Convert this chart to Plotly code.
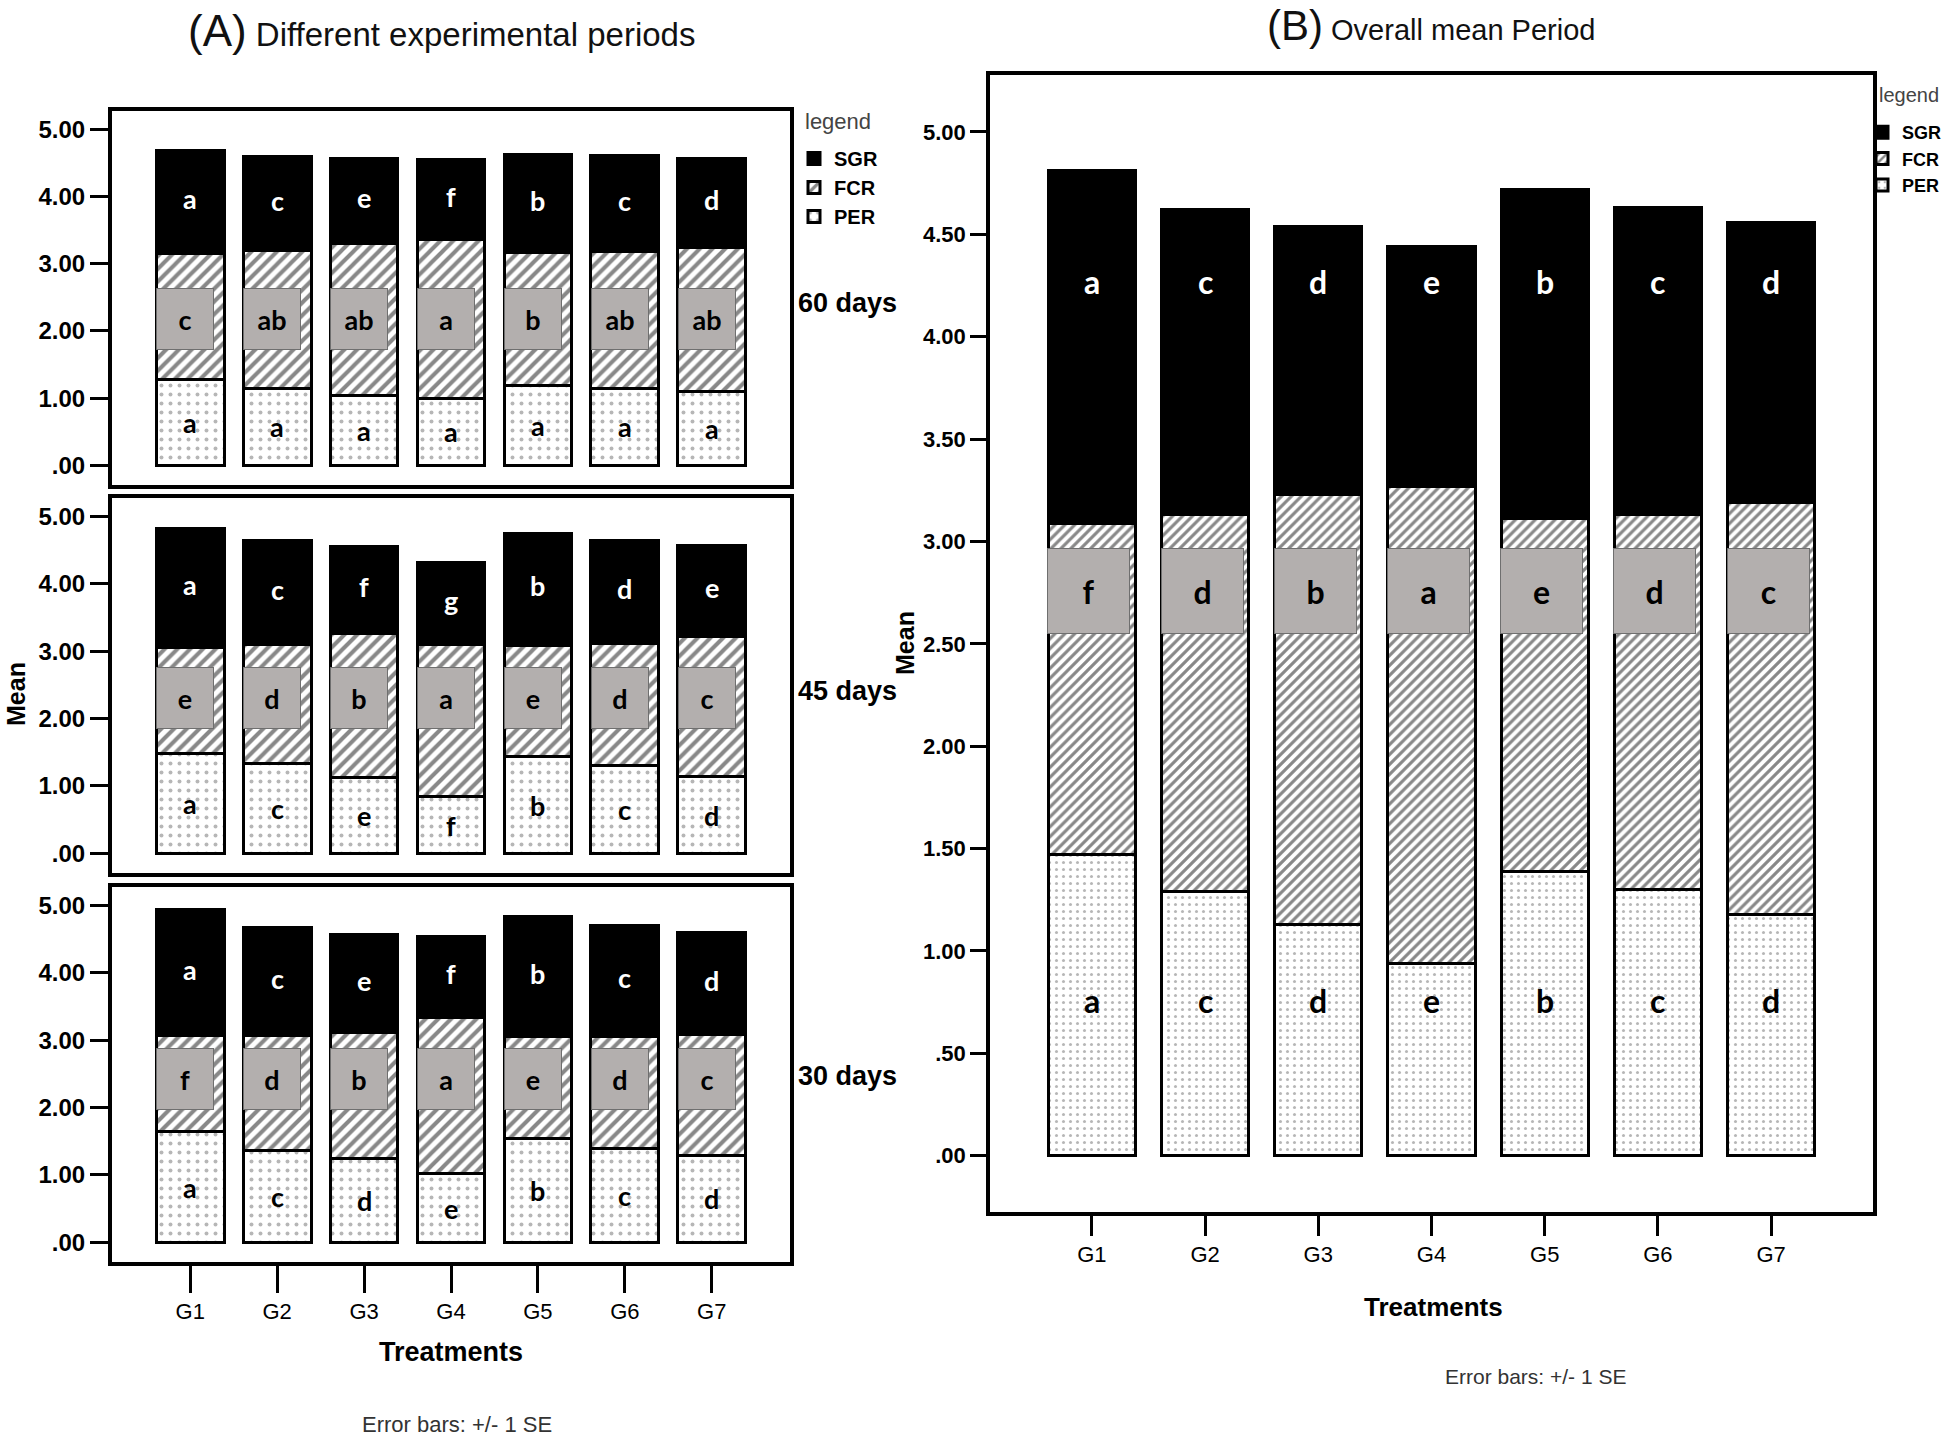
import plotly.graph_objects as go

# ---------------- data ----------------
groups = ["G1", "G2", "G3", "G4", "G5", "G6", "G7"]
series_names = ["PER", "FCR", "SGR"]

# 60 days (stack segments: PER bottom, FCR middle, SGR top)
per_60 = [1.28, 1.15, 1.04, 1.00, 1.19, 1.15, 1.10]
fcr_60 = [1.87, 2.04, 2.26, 2.36, 1.97, 2.03, 2.14]
sgr_60 = [1.53, 1.41, 1.26, 1.19, 1.47, 1.43, 1.32]
per_60_letters = ["a", "a", "a", "a", "a", "a", "a"]
fcr_60_letters = ["c", "ab", "ab", "a", "b", "ab", "ab"]
sgr_60_letters = ["a", "c", "e", "f", "b", "c", "d"]

# 45 days
per_45 = [1.48, 1.33, 1.12, 0.84, 1.43, 1.31, 1.14]
fcr_45 = [1.58, 1.77, 2.14, 2.26, 1.66, 1.81, 2.07]
sgr_45 = [1.76, 1.54, 1.29, 1.21, 1.66, 1.52, 1.36]
per_45_letters = ["a", "c", "e", "f", "b", "c", "d"]
fcr_45_letters = ["e", "d", "b", "a", "e", "d", "c"]
sgr_45_letters = ["a", "c", "f", "g", "b", "d", "e"]

# 30 days
per_30 = [1.64, 1.37, 1.24, 1.02, 1.54, 1.39, 1.29]
fcr_30 = [1.43, 1.70, 1.87, 2.32, 1.51, 1.66, 1.79]
sgr_30 = [1.86, 1.60, 1.46, 1.20, 1.78, 1.65, 1.51]
per_30_letters = ["a", "c", "d", "e", "b", "c", "d"]
fcr_30_letters = ["f", "d", "b", "a", "e", "d", "c"]
sgr_30_letters = ["a", "c", "e", "f", "b", "c", "d"]

# Overall mean period
per_all = [1.47, 1.29, 1.13, 0.94, 1.39, 1.30, 1.18]
fcr_all = [1.62, 1.84, 2.10, 2.33, 1.72, 1.83, 2.01]
sgr_all = [1.72, 1.49, 1.31, 1.17, 1.61, 1.50, 1.37]
per_all_letters = ["a", "c", "d", "e", "b", "c", "d"]
fcr_all_letters = ["f", "d", "b", "a", "e", "d", "c"]
sgr_all_letters = ["a", "c", "d", "e", "b", "c", "d"]

ticks_A = [0, 1, 2, 3, 4, 5]
ticktext_A = [".00", "1.00", "2.00", "3.00", "4.00", "5.00"]
ticks_B = [0, 0.5, 1, 1.5, 2, 2.5, 3, 3.5, 4, 4.5, 5]
ticktext_B = [".00", ".50", "1.00", "1.50", "2.00", "2.50", "3.00", "3.50", "4.00", "4.50", "5.00"]

# ---------------- layout helpers ----------------
W, H = 1944, 1440
def px(v):
    return v / W
def py(v):
    return 1 - v / H

x_idx = list(range(len(groups)))
FONT = "Liberation Sans"
LFONT = "Lato"

panels = [
    dict(xa="x", ya="y", per=per_60, fcr=fcr_60, sgr=sgr_60,
         lp=per_60_letters, lf=fcr_60_letters, ls=sgr_60_letters,
         ydom=(485, 111), box_y=2.18, kind="A", leg="legend", show=True),
    dict(xa="x2", ya="y2", per=per_45, fcr=fcr_45, sgr=sgr_45,
         lp=per_45_letters, lf=fcr_45_letters, ls=sgr_45_letters,
         ydom=(873, 498), box_y=2.30, kind="A", leg="legend", show=False),
    dict(xa="x3", ya="y3", per=per_30, fcr=fcr_30, sgr=sgr_30,
         lp=per_30_letters, lf=fcr_30_letters, ls=sgr_30_letters,
         ydom=(1262, 887), box_y=2.43, kind="A", leg="legend", show=False, xticks=True),
    dict(xa="x4", ya="y4", per=per_all, fcr=fcr_all, sgr=sgr_all,
         lp=per_all_letters, lf=fcr_all_letters, ls=sgr_all_letters,
         ydom=(1212, 75), box_y=2.76, kind="B", leg="legend2", show=True, xticks=True),
]

fig = go.Figure()
annotations = []
layout_axes = {}

for k, p in enumerate(panels):
    isB = p["kind"] == "B"
    bw = 0.77 if isB else 0.78
    psize = 7 if isB else 9
    dsize = 7 if isB else 9
    common = dict(x=x_idx, xaxis=p["xa"], yaxis=p["ya"], width=bw,
                  showlegend=p["show"], legend=p["leg"], hoverinfo="skip")
    fig.add_trace(go.Bar(y=p["per"], name="PER", **common,
                         marker=dict(color="white", line=dict(color="black", width=3),
                                     pattern=dict(shape=".", fgcolor="#6e6e6e", bgcolor="white",
                                                  size=dsize, solidity=0.15))))
    fig.add_trace(go.Bar(y=p["fcr"], name="FCR", **common,
                         marker=dict(color="white", line=dict(color="black", width=3),
                                     pattern=dict(shape="/", fgcolor="#111111", bgcolor="white",
                                                  size=psize, solidity=0.45))))
    fig.add_trace(go.Bar(y=p["sgr"], name="SGR", **common,
                         marker=dict(color="black", line=dict(color="black", width=3))))

    # letters
    lsize = 32 if isB else 27
    for i in x_idx:
        per, fcr, sgr = p["per"][i], p["fcr"][i], p["sgr"][i]
        if isB:
            y_per, y_sgr = 0.76, 4.27
        else:
            y_per = per / 2
            y_sgr = per + fcr + sgr / 2 + 0.05
        base = dict(x=i, xref=p["xa"], yref=p["ya"], showarrow=False)
        annotations.append(dict(base, y=y_per, text=p["lp"][i],
                                font=dict(family=LFONT, size=lsize, color="black", weight="bold")))
        annotations.append(dict(base, y=y_sgr, text=p["ls"][i],
                                font=dict(family=LFONT, size=lsize, color="white", weight="bold")))
        annotations.append(dict(base, y=p["box_y"], text=p["lf"][i],
                                bgcolor="#b3afae", bordercolor="#6f6f6f", borderwidth=1, borderpad=1,
                                width=79 if isB else 54, height=82 if isB else 58,
                                xshift=-3 if isB else -5, valign="middle", align="center",
                                font=dict(family=LFONT, size=lsize, color="black", weight="bold")))

    # axes
    xname = "xaxis" + ("" if k == 0 else str(k + 1))
    yname = "yaxis" + ("" if k == 0 else str(k + 1))
    xdom = (px(990), px(1873)) if isB else (px(112), px(790))
    lw = 3.5 if isB else 4
    has_xt = p.get("xticks", False)
    layout_axes[xname] = dict(
        domain=list(xdom), anchor=p["ya"], range=[-0.9, 6.9],
        showline=True, mirror=True, linewidth=lw, linecolor="black",
        showgrid=False, zeroline=False,
        tickmode="array", tickvals=x_idx, ticktext=groups,
        ticks="outside" if has_xt else "", ticklen=20 if isB else 27, tickwidth=2.5, tickcolor="black",
        showticklabels=has_xt,
        tickfont=dict(family=FONT, size=22, color="black"),
    )
    layout_axes[yname] = dict(
        domain=[py(p["ydom"][0]), py(p["ydom"][1])], anchor=p["xa"],
        range=[-0.275, 5.278] if isB else [-0.29, 5.27],
        showline=True, mirror=True, linewidth=lw, linecolor="black",
        showgrid=False, zeroline=False,
        tickmode="array",
        tickvals=ticks_B if isB else ticks_A,
        ticktext=ticktext_B if isB else ticktext_A,
        ticks="outside", ticklen=16 if isB else 18, tickwidth=2.5, tickcolor="black",
        tickfont=dict(family=FONT, size=22 if isB else 24, color="black", weight="bold"),
    )

# ---------------- text annotations (paper) ----------------
def paper_text(x, y, text, size, bold=False, xanchor="center", angle=0, color="black"):
    annotations.append(dict(x=px(x), y=py(y), xref="paper", yref="paper", text=text,
                            showarrow=False, xanchor=xanchor, yanchor="middle", textangle=angle,
                            font=dict(family=FONT, size=size, color=color,
                                      weight="bold" if bold else "normal")))

paper_text(186, 30, "<span style='font-size:44px'>(A)</span> Different experimental periods", 33,
           xanchor="left", color="#111")
paper_text(1265, 25, "<span style='font-size:42px'>(B)</span> Overall mean Period", 29,
           xanchor="left", color="#111")
paper_text(796, 303, "60 days", 27, bold=True, xanchor="left")
paper_text(796, 691, "45 days", 27, bold=True, xanchor="left")
paper_text(796, 1076, "30 days", 27, bold=True, xanchor="left")
paper_text(16, 694, "Mean", 25, bold=True, angle=-90)
paper_text(905, 643, "Mean", 25, bold=True, angle=-90)
paper_text(451, 1352, "Treatments", 27, bold=True)
paper_text(1433, 1307, "Treatments", 26, bold=True)
paper_text(457, 1424, "Error bars: +/- 1 SE", 22, color="#333")
paper_text(1535, 1376, "Error bars: +/- 1 SE", 21, color="#333")
paper_text(803, 121, "legend", 22, xanchor="left", color="#444")
paper_text(1877, 95, "legend", 20, xanchor="left", color="#444")

legend_common = dict(xanchor="left", yanchor="top", traceorder="reversed",
                     itemwidth=30, bgcolor="rgba(0,0,0,0)", tracegroupgap=0)

fig.update_layout(
    width=W, height=H,
    margin=dict(l=0, r=0, t=0, b=0, autoexpand=False),
    paper_bgcolor="white", plot_bgcolor="white",
    barmode="stack", bargap=0.2,
    annotations=annotations,
    legend=dict(legend_common, x=px(794), y=py(139),
                font=dict(family=FONT, size=20, color="black", weight="bold")),
    legend2=dict(legend_common, x=px(1862), y=py(114),
                 font=dict(family=FONT, size=18, color="black", weight="bold")),
    **layout_axes,
)

fig.write_html("out.html", config={"displayModeBar": False},
               post_script="document.body.style.margin='0';")
